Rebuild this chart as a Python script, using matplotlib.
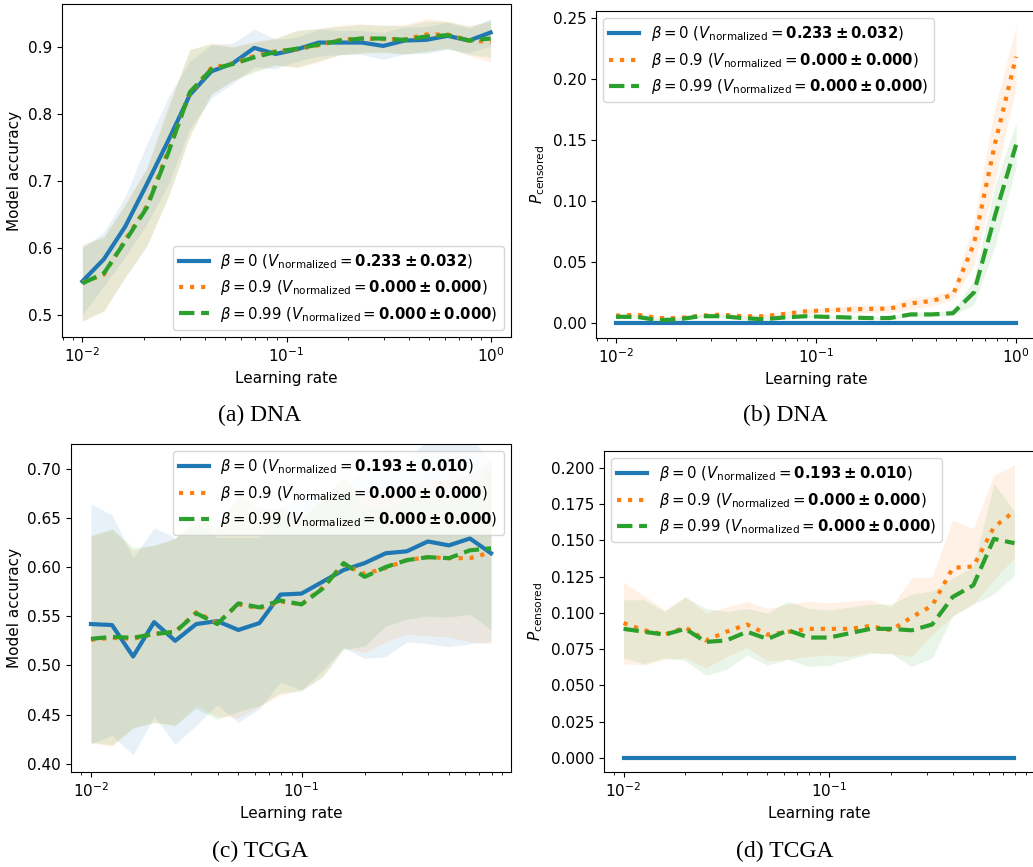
import numpy as np
import matplotlib.pyplot as plt

# learning-rate grids (20 points each)
lr_dna = np.logspace(-2, 0, 20)
lr_tcga = np.logspace(-2, -0.1, 20)

# DNA: model accuracy (mean, std)
acc_dna_b0 = [0.550, 0.583, 0.632, 0.695, 0.760, 0.828, 0.863, 0.875, 0.898, 0.889,
              0.896, 0.906, 0.906, 0.906, 0.901, 0.909, 0.910, 0.916, 0.909, 0.921]
acc_dna_b09 = [0.548, 0.560, 0.612, 0.662, 0.745, 0.830, 0.868, 0.875, 0.886, 0.893,
               0.896, 0.902, 0.910, 0.912, 0.911, 0.911, 0.918, 0.918, 0.909, 0.907]
acc_dna_b099 = [0.547, 0.562, 0.610, 0.660, 0.742, 0.832, 0.866, 0.874, 0.884, 0.892,
                0.897, 0.903, 0.909, 0.912, 0.912, 0.910, 0.915, 0.917, 0.909, 0.912]
acc_dna_b0_std = [0.050, 0.040, 0.045, 0.060, 0.065, 0.050, 0.040, 0.030, 0.028, 0.022,
                  0.018, 0.020, 0.018, 0.018, 0.020, 0.020, 0.020, 0.020, 0.018, 0.020]
acc_dna_b09_std = [0.058, 0.055, 0.055, 0.058, 0.068, 0.065, 0.038, 0.025, 0.022, 0.020,
                   0.028, 0.025, 0.022, 0.022, 0.020, 0.022, 0.024, 0.020, 0.022, 0.030]
acc_dna_b099_std = [0.056, 0.055, 0.054, 0.058, 0.066, 0.064, 0.037, 0.025, 0.022, 0.020,
                    0.027, 0.024, 0.021, 0.021, 0.020, 0.021, 0.023, 0.020, 0.021, 0.028]

# DNA: P_censored (mean, std)
cens_dna_b0 = [0.0] * 20
cens_dna_b09 = [0.0060, 0.0068, 0.0040, 0.0040, 0.0060, 0.0068, 0.0055, 0.0055, 0.0074, 0.0095,
                0.0104, 0.0110, 0.0115, 0.0117, 0.0160, 0.0180, 0.0230, 0.0650, 0.1470, 0.2180]
cens_dna_b099 = [0.0050, 0.0050, 0.0022, 0.0030, 0.0055, 0.0055, 0.0040, 0.0030, 0.0045, 0.0055,
                 0.0050, 0.0045, 0.0040, 0.0040, 0.0070, 0.0070, 0.0080, 0.0250, 0.0880, 0.1460]
cens_dna_b0_std = [0.0] * 20
cens_dna_b09_std = [0.001, 0.001, 0.001, 0.001, 0.001, 0.001, 0.001, 0.0015, 0.002, 0.002,
                    0.002, 0.003, 0.003, 0.003, 0.005, 0.004, 0.004, 0.018, 0.030, 0.025]
cens_dna_b099_std = [0.001, 0.001, 0.001, 0.001, 0.001, 0.001, 0.001, 0.001, 0.001, 0.001,
                     0.001, 0.001, 0.001, 0.001, 0.002, 0.002, 0.002, 0.010, 0.025, 0.018]

# TCGA: model accuracy (mean, std)
acc_tcga_b0 = [0.542, 0.541, 0.509, 0.544, 0.525, 0.542, 0.545, 0.536, 0.543, 0.572,
               0.573, 0.585, 0.597, 0.604, 0.614, 0.616, 0.626, 0.622, 0.629, 0.614]
acc_tcga_b09 = [0.526, 0.528, 0.527, 0.532, 0.534, 0.554, 0.543, 0.562, 0.558, 0.565,
                0.562, 0.579, 0.603, 0.593, 0.599, 0.607, 0.610, 0.609, 0.609, 0.615]
acc_tcga_b099 = [0.527, 0.529, 0.528, 0.532, 0.534, 0.553, 0.542, 0.563, 0.559, 0.566,
                 0.562, 0.578, 0.604, 0.590, 0.600, 0.607, 0.610, 0.609, 0.617, 0.619]
acc_tcga_b0_std = [0.122, 0.112, 0.100, 0.096, 0.105, 0.103, 0.085, 0.094, 0.087, 0.089,
                   0.098, 0.090, 0.079, 0.097, 0.105, 0.092, 0.104, 0.103, 0.107, 0.090]
acc_tcga_b09_std = [0.105, 0.110, 0.090, 0.090, 0.095, 0.095, 0.095, 0.115, 0.100, 0.095,
                    0.087, 0.090, 0.085, 0.080, 0.075, 0.075, 0.080, 0.080, 0.085, 0.093]
acc_tcga_b099_std = [0.105, 0.110, 0.092, 0.090, 0.095, 0.097, 0.097, 0.110, 0.100, 0.094,
                     0.088, 0.090, 0.088, 0.070, 0.060, 0.060, 0.060, 0.060, 0.065, 0.083]

# TCGA: P_censored (mean, std)
cens_tcga_b0 = [0.0] * 20
cens_tcga_b09 = [0.093, 0.088, 0.085, 0.090, 0.081, 0.087, 0.092, 0.085, 0.087, 0.089,
                 0.089, 0.089, 0.091, 0.088, 0.097, 0.105, 0.131, 0.132, 0.159, 0.170]
cens_tcga_b099 = [0.089, 0.087, 0.085, 0.089, 0.080, 0.081, 0.087, 0.082, 0.088, 0.083,
                  0.083, 0.086, 0.089, 0.089, 0.088, 0.092, 0.111, 0.119, 0.151, 0.148]
cens_tcga_b0_std = [0.0] * 20
cens_tcga_b09_std = [0.028, 0.024, 0.017, 0.021, 0.019, 0.017, 0.016, 0.018, 0.019, 0.019,
                     0.018, 0.019, 0.018, 0.016, 0.027, 0.020, 0.033, 0.026, 0.036, 0.032]
cens_tcga_b099_std = [0.020, 0.022, 0.016, 0.022, 0.023, 0.020, 0.016, 0.018, 0.020, 0.020,
                      0.019, 0.018, 0.017, 0.017, 0.025, 0.023, 0.013, 0.013, 0.038, 0.022]

v_dna = ["0.233 \\pm 0.032", "0.000 \\pm 0.000", "0.000 \\pm 0.000"]
v_tcga = ["0.193 \\pm 0.010", "0.000 \\pm 0.000", "0.000 \\pm 0.000"]
betas = ["0", "0.9", "0.99"]
colors = ["tab:blue", "tab:orange", "tab:green"]
styles = ["-", ":", "--"]


def draw(ax, x, means, stds, vnorm, ylabel, loc):
    for b, m, s, c, ls, v in zip(betas, means, stds, colors, styles, vnorm):
        m = np.array(m)
        s = np.array(s)
        lab = r"$\beta = %s$ ($V_{\mathrm{normalized}} = \mathbf{%s}$)" % (b, v)
        ax.plot(x, m, color=c, linestyle=ls, linewidth=3, label=lab)
        ax.fill_between(x, m - s, m + s, color=c, alpha=0.1, linewidth=0)
    ax.set_xscale("log")
    ax.set_xlabel("Learning rate", fontsize=11)
    ax.set_ylabel(ylabel, fontsize=11)
    ax.tick_params(labelsize=11)
    ax.legend(loc=loc, fontsize=10.7)


fig = plt.figure(figsize=(10.33, 8.67), dpi=100)
ax_a = fig.add_axes([0.060, 0.6113, 0.4347, 0.3841])
ax_b = fig.add_axes([0.577, 0.6102, 0.4260, 0.3771])
ax_c = fig.add_axes([0.0687, 0.1096, 0.4260, 0.3783])
ax_d = fig.add_axes([0.5847, 0.1096, 0.4163, 0.3702])

draw(ax_a, lr_dna, [acc_dna_b0, acc_dna_b09, acc_dna_b099],
     [acc_dna_b0_std, acc_dna_b09_std, acc_dna_b099_std], v_dna,
     "Model accuracy", "lower right")
ax_a.set_ylim(0.467, 0.9635)

draw(ax_b, lr_dna, [cens_dna_b0, cens_dna_b09, cens_dna_b099],
     [cens_dna_b0_std, cens_dna_b09_std, cens_dna_b099_std], v_dna,
     r"$P_{\mathrm{censored}}$", "upper left")
ax_b.set_ylim(-0.0123, 0.2555)

draw(ax_c, lr_tcga, [acc_tcga_b0, acc_tcga_b09, acc_tcga_b099],
     [acc_tcga_b0_std, acc_tcga_b09_std, acc_tcga_b099_std], v_tcga,
     "Model accuracy", "upper right")
ax_c.set_ylim(0.3916, 0.7251)
ax_c.set_yticks(np.arange(0.40, 0.701, 0.05))

draw(ax_d, lr_tcga, [cens_tcga_b0, cens_tcga_b09, cens_tcga_b099],
     [cens_tcga_b0_std, cens_tcga_b09_std, cens_tcga_b099_std], v_tcga,
     r"$P_{\mathrm{censored}}$", "upper left")
ax_d.set_ylim(-0.0096, 0.2115)
ax_d.set_yticks(np.arange(0.0, 0.2001, 0.025))

# subfigure captions
cap = dict(ha="center", va="center", fontsize=17, family="Liberation Serif")
fig.text(260 / 1033, 1 - 415 / 867, "(a) DNA", **cap)
fig.text(785 / 1033, 1 - 415 / 867, "(b) DNA", **cap)
fig.text(260 / 1033, 1 - 851 / 867, "(c) TCGA", **cap)
fig.text(785 / 1033, 1 - 851 / 867, "(d) TCGA", **cap)

fig.savefig("out.png", dpi=100)
